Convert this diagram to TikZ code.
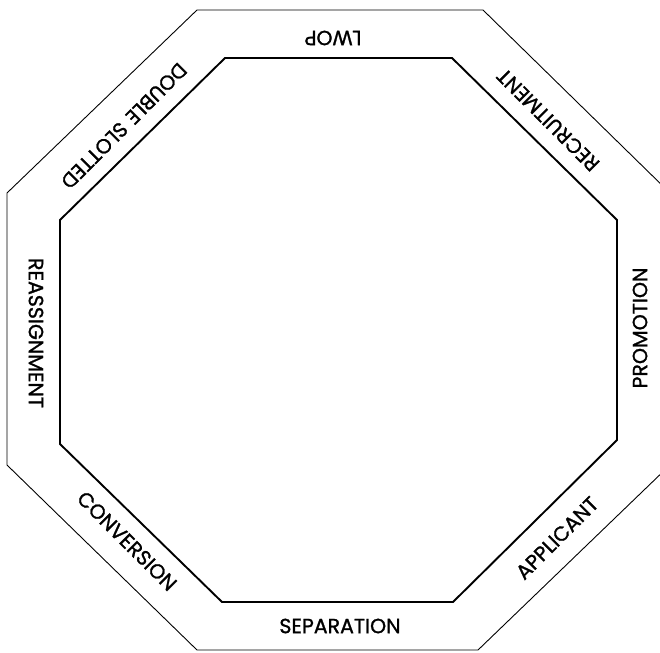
\documentclass[tikz,border=0pt]{standalone}
\usepackage{fontspec}
\setmainfont{Poppins}[FakeBold=1.2]
\begin{document}
\begin{tikzpicture}[x=1pt,y=-1pt,
  outerline/.style={draw=black,line width=0.9pt,line join=miter},
  innerline/.style={draw=black,line width=1.9pt,line join=miter},
  lbl/.style={inner sep=0pt,font=\fontsize{20.5}{23}\selectfont}]
\useasboundingbox (0,0) rectangle (660,652);
\clip (0,0) rectangle (660,652);
% outer octagon
\draw[outerline] (197,10) -- (483,10) -- (670,193) -- (670,465) -- (478,650)
  -- (197,650) -- (7,465) -- (7,193) -- cycle;
% inner octagon
\draw[innerline] (225,58) -- (452,58) -- (617,220) -- (617,440) -- (453,602)
  -- (222,602) -- (60,444) -- (60,220) -- cycle;
% labels
\node[lbl,rotate=180] (lwop) at (333,38) {LWOP};
\node[lbl,rotate=135] (recr) at (548,120) {RECRUITMENT};
\node[lbl,rotate=90] (prom) at (640,328) {PROMOTION};
\node[lbl,rotate=45] (appl) at (557,538) {APPLICANT};
\node[lbl] (sepa) at (340,626) {SEPARATION};
\node[lbl,rotate=-45] (conv) at (127,541) {CONVERSION};
\node[lbl,rotate=-90] (reas) at (36,333) {REASSIGNMENT};
\node[lbl,rotate=-135] (dbls) at (124,126) {DOUBLE\hspace{0.35em}SLOTTED};
\end{tikzpicture}
\end{document}
